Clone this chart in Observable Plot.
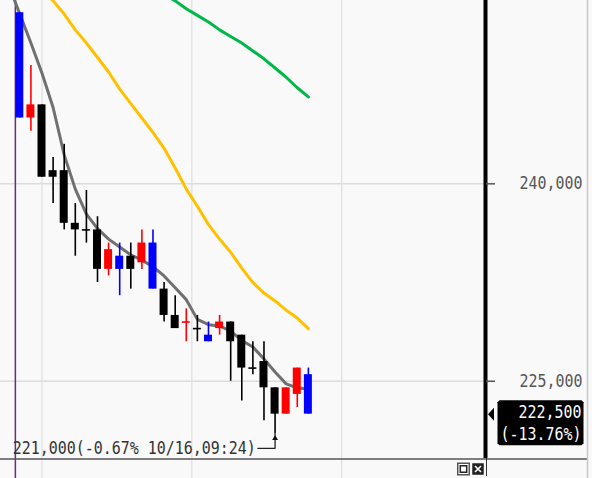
<!DOCTYPE html>
<html>
<head>
<meta charset="utf-8">
<script src="https://cdn.jsdelivr.net/npm/d3@7"></script>
<script src="https://cdn.jsdelivr.net/npm/@observablehq/plot@0.6"></script>
<style>
  html, body { margin: 0; padding: 0; background: #ffffff; }
  #chart svg { display: block; }
</style>
</head>
<body>
<div id="chart"></div>
<script>
// Intraday candles, oldest first (prices in won)
const opens  = [253000, 245000, 246000, 241000, 241000, 237000, 236500, 236500, 233500, 234500, 234500, 234000, 235500, 232000, 230000, 229500, 229000, 228500, 229000, 229500, 228500, 226000, 226500, 224500, 222500, 224000, 225500];
const highs  = [253000, 249000, 246000, 242000, 243000, 238500, 239500, 237500, 235500, 235500, 235500, 236500, 236500, 232500, 231500, 230500, 230000, 229500, 230000, 229500, 228500, 228000, 228000, 224500, 224500, 226000, 226000];
const lows   = [245000, 244000, 240500, 238500, 236500, 234500, 235500, 232500, 233000, 231500, 232000, 233500, 232000, 229500, 229000, 228000, 228000, 228000, 228500, 225000, 223500, 225500, 222000, 221000, 222500, 223000, 222500];
const closes = [245000, 246000, 240500, 240500, 237000, 236500, 236500, 233500, 235000, 233500, 233500, 235500, 232000, 230000, 229000, 229500, 229000, 228000, 229500, 228000, 226000, 226000, 224500, 222500, 224500, 226000, 222500];
const kinds  = ["down", "up", "neutral", "neutral", "neutral", "neutral", "neutral", "neutral", "up", "down", "neutral", "up", "down", "neutral", "neutral", "up", "neutral", "down", "up", "neutral", "neutral", "neutral", "neutral", "neutral", "up", "up", "down"];

// Moving averages; each list starts at the candle index given next to it
const shortAvgStart = -1;
const shortAvg = [255100, 252900, 250700, 248400, 245800, 242200, 239600, 237700, 236600, 235800, 235200, 234600, 234200, 233700, 233000, 232100, 231200, 229700, 229300, 229200, 228800, 228100, 227600, 226700, 225700, 224800, 224500, 224400];
const midAvgStart = -1;
const midAvg = [258500, 257400, 255900, 254800, 253900, 252900, 251700, 250700, 249600, 248500, 247200, 246100, 245000, 243900, 242700, 241200, 239600, 238300, 236900, 235800, 234800, 233600, 232500, 231700, 231100, 230400, 229800, 229000];
const longAvgStart = 10;
const longAvg = [255900, 255400, 254800, 254400, 253900, 253300, 252800, 252300, 251700, 251200, 250700, 250100, 249500, 248800, 248100, 247300, 246600];

// Price axis ticks and session markers
const priceTicks = [225000, 240000];
const timeGrid = [2, 15.5, 29];
const sessionStart = -0.4;

// Last trade tag and session-low note
const changePct = -13.76;
const lowPct = -0.67;
const lowTime = "10/16,09:24";

const candles = opens.map((open, i) => ({i, open, high: highs[i], low: lows[i], close: closes[i], kind: kinds[i]}));
const series = (values, start) => values.map((v, k) => ({i: start + k, v}));

const xDomain = [-1.74, 41.96];
const yDomain = [219130, 253930];
const half = 0.36;
const fmt = d3.format(",");

const lowCandle = d3.least(candles, d => d.low);
const elbow = lowCandle.low - 1100;
const notePath = [
  {i: lowCandle.i, v: lowCandle.low},
  {i: lowCandle.i, v: elbow},
  {i: lowCandle.i - 1.55, v: elbow}
];
const last = candles[candles.length - 1];

const tagPointer = {draw(ctx) { ctx.moveTo(-3, 0); ctx.lineTo(3, -6.5); ctx.lineTo(3, 6.5); ctx.closePath(); }};
const tagBox = {draw(ctx) {
  ctx.moveTo(-41, -14); ctx.lineTo(41, -14); ctx.lineTo(43, -12); ctx.lineTo(43, 29);
  ctx.lineTo(41, 31); ctx.lineTo(-41, 31); ctx.lineTo(-43, 29); ctx.lineTo(-43, -12); ctx.closePath();
}};
const cross = {draw(ctx) { ctx.moveTo(-3, -3); ctx.lineTo(3, 3); ctx.moveTo(3, -3); ctx.lineTo(-3, 3); }};

const svg = Plot.plot({
  width: 592,
  height: 478,
  marginLeft: 0,
  marginRight: 107,
  marginTop: 0,
  marginBottom: 20,
  style: {background: "#f9f9f9", fontFamily: "DejaVu Sans Mono", fontSize: "17px", overflow: "visible"},
  x: {domain: xDomain, axis: null},
  y: {domain: yDomain, axis: null},
  color: {domain: ["up", "down", "neutral"], range: ["#ff0000", "#0000ff", "#000000"]},
  marks: [
    Plot.ruleX(timeGrid, {stroke: "#e3e3e3", strokeWidth: 1.5, insetBottom: -20}),
    Plot.ruleY(priceTicks, {stroke: "#dcdcdc", strokeWidth: 1.5}),
    Plot.ruleX([sessionStart], {stroke: "#6b2d7b", strokeWidth: 1.5, insetBottom: -20}),

    Plot.line(series(longAvg, longAvgStart), {x: "i", y: "v", stroke: "#00b84a", strokeWidth: 3, clip: true}),
    Plot.line(series(midAvg, midAvgStart), {x: "i", y: "v", stroke: "#ffc000", strokeWidth: 3, clip: true}),
    Plot.line(series(shortAvg, shortAvgStart), {x: "i", y: "v", stroke: "#707070", strokeWidth: 3, clip: true}),

    Plot.ruleX(candles, {x: "i", y1: "low", y2: "high", stroke: "kind", strokeWidth: 1.6}),
    Plot.rect(candles.filter(d => d.open !== d.close), {
      x1: d => d.i - half, x2: d => d.i + half, y1: "open", y2: "close", fill: "kind"
    }),
    Plot.ruleY(candles.filter(d => d.open === d.close), {
      y: "open", x1: d => d.i - half, x2: d => d.i + half, stroke: "kind", strokeWidth: 1.6
    }),

    Plot.ruleY([yDomain[0]], {stroke: "#555", strokeWidth: 1.5, insetRight: -102, dy: 0.5}),
    Plot.ruleX([xDomain[1]], {stroke: "#333", strokeWidth: 1, insetBottom: -18, dx: 1}),
    Plot.ruleX([xDomain[1]], {stroke: "#000", strokeWidth: 4}),
    Plot.ruleX([xDomain[1]], {stroke: "#c8c8c8", strokeWidth: 1.5, dx: 102, insetBottom: -20}),

    Plot.axisY(priceTicks, {
      anchor: "right", tickSize: 9, tickPadding: 25, tickFormat: fmt,
      color: "#555", strokeWidth: 1.5, fontSize: 17
    }),

    // session low note
    Plot.line(notePath, {x: "i", y: "v", stroke: "#222", strokeWidth: 1.3}),
    Plot.dot([lowCandle], {x: "i", y: "low", symbol: "triangle", r: 2.2, fill: "#111", dy: 4.5}),
    Plot.text([lowCandle], {
      x: d => d.i - 1.55, y: () => elbow, textAnchor: "end", dx: -2, fill: "#333", fontSize: 17,
      text: d => `${fmt(d.low)}(${lowPct.toFixed(2)}% ${lowTime})`
    }),

    // last price tag
    Plot.dot([last], {y: "close", frameAnchor: "right", dx: 5.5, symbol: tagPointer, r: 5, fill: "#000"}),
    Plot.dot([last], {y: "close", frameAnchor: "right", dx: 55, symbol: tagBox, r: 5, fill: "#000"}),
    Plot.text([last], {y: "close", frameAnchor: "right", dx: 96, dy: -1.5, textAnchor: "end", fill: "#fff", fontSize: 17, text: d => fmt(d.close)}),
    Plot.text([last], {y: "close", frameAnchor: "right", dx: 96, dy: 20.5, textAnchor: "end", fill: "#fff", fontSize: 17, text: () => `(${changePct.toFixed(2)}%)`}),

    // panel buttons
    Plot.dot([0], {frameAnchor: "bottom-right", dx: -22, dy: 10.5, symbol: "square", r: 6.5, fill: "#fff", stroke: "#555"}),
    Plot.dot([0], {frameAnchor: "bottom-right", dx: -22, dy: 10.5, symbol: "square", r: 3.6, fill: "#fff", stroke: "#222", strokeWidth: 1.5}),
    Plot.dot([0], {frameAnchor: "bottom-right", dx: -7.5, dy: 10.5, symbol: "square", r: 6.5, fill: "#222"}),
    Plot.dot([0], {frameAnchor: "bottom-right", dx: -7.5, dy: 10.5, symbol: cross, r: 3, fill: "none", stroke: "#fff", strokeWidth: 1.6})
  ]
});

// Fixed-pitch label cells, 9px per character
svg.querySelectorAll("text").forEach(t => {
  const s = t.textContent;
  if (s.length > 2) {
    t.setAttribute("textLength", s.length * 9);
    t.setAttribute("lengthAdjust", "spacingAndGlyphs");
  }
});

document.getElementById("chart").appendChild(svg);
</script>
</body>
</html>
